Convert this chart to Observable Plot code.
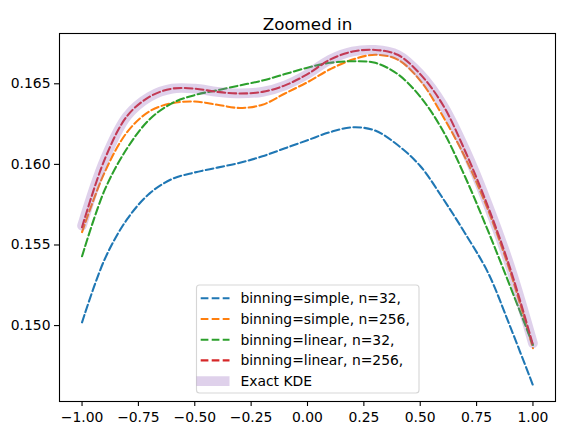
<!DOCTYPE html>
<html>
<head>
<meta charset="utf-8">
<script src="https://cdn.jsdelivr.net/npm/d3@7"></script>
<script src="https://cdn.jsdelivr.net/npm/@observablehq/plot@0.6"></script>
<style>
  html, body { margin: 0; padding: 0; background: white; }
  #chart { width: 565px; height: 435px; }
</style>
</head>
<body>
<div id="chart"></div>
<script>
// Evaluation grid on [-1, 1]
const xs = [-1.0, -0.9, -0.8, -0.7, -0.6, -0.5, -0.4, -0.3, -0.2, -0.1, 0.0,
            0.1, 0.2, 0.3, 0.4, 0.5, 0.6, 0.7, 0.8, 0.9, 1.0];

// Approximate KDE estimates for each binning scheme / grid size
const simple32 = [0.1502, 0.1541, 0.1566, 0.1582, 0.1591, 0.1595, 0.1598, 0.1601, 0.1605, 0.1610, 0.1615,
                  0.1620, 0.1623, 0.1621, 0.1612, 0.1599, 0.1579, 0.1557, 0.1533, 0.1499, 0.1463];
const simple256 = [0.1558, 0.1595, 0.1620, 0.1633, 0.1638, 0.1639, 0.1637, 0.1635, 0.1637, 0.1644, 0.1651,
                   0.1659, 0.1665, 0.1668, 0.1665, 0.1652, 0.1630, 0.1604, 0.1572, 0.1533, 0.1486];
const linear32 = [0.1543, 0.1584, 0.1610, 0.1628, 0.1638, 0.1643, 0.1646, 0.1649, 0.1652, 0.1656, 0.1660,
                  0.1663, 0.1664, 0.1663, 0.1656, 0.1642, 0.1621, 0.1592, 0.1559, 0.1524, 0.1488];
const linear256 = [0.1561, 0.1603, 0.1630, 0.1642, 0.1647, 0.1647, 0.1645, 0.1644, 0.1645, 0.1649, 0.1656,
                   0.1665, 0.1670, 0.1671, 0.1668, 0.1656, 0.1637, 0.1608, 0.1574, 0.1535, 0.1488];
// Exact (non-binned) KDE
const exactKDE = [0.1562, 0.1603, 0.1630, 0.1642, 0.1647, 0.1647, 0.1645, 0.1644, 0.1645, 0.1649, 0.1656,
                  0.1665, 0.1670, 0.1671, 0.1668, 0.1656, 0.1637, 0.1609, 0.1575, 0.1536, 0.1489];

const seriesLabels = ["binning=simple, n=32,", "binning=simple, n=256,",
                      "binning=linear, n=32,", "binning=linear, n=256,"];
const seriesValues = [simple32, simple256, linear32, linear256];
const seriesColors = ["#1f77b4", "#ff7f0e", "#2ca02c", "#d62728"];
const exactLabel = "Exact KDE";
const exactColor = "#9467bd";

const xTicks = [-1.0, -0.75, -0.5, -0.25, 0.0, 0.25, 0.5, 0.75, 1.0];
const yTicks = [0.150, 0.155, 0.160, 0.165];
const titleText = "Zoomed in";

// Long-form rows for the dashed estimate lines
const rows = seriesValues.flatMap((vals, i) =>
  vals.map((v, j) => ({x: xs[j], y: v, series: seriesLabels[i]})));
const exactRows = exactKDE.map((v, j) => ({x: xs[j], y: v}));

const font = "DejaVu Sans, Verdana, sans-serif";
const dash = "7.7,3.3";

const chart = Plot.plot({
  width: 565,
  height: 435,
  marginLeft: 59,
  marginRight: 10,
  marginTop: 33,
  marginBottom: 34,
  style: {fontFamily: font, fontSize: "13.9px", color: "black", background: "white"},
  x: {domain: [-1.1, 1.1]},
  y: {domain: [0.14529, 0.16812]},
  color: {domain: seriesLabels, range: seriesColors},
  marks: [
    Plot.axisX({ticks: xTicks, tickFormat: d3.format(".2f"), tickSize: 5, tickPadding: 6,
                strokeWidth: 1.1, label: null, fontSize: 13.9}),
    Plot.axisY({ticks: yTicks, tickFormat: d3.format(".3f"), tickSize: 5, tickPadding: 4,
                strokeWidth: 1.1, label: null, fontSize: 13.9}),
    Plot.line(rows, {x: "x", y: "y", z: "series", stroke: "series",
                     strokeWidth: 2.08, strokeDasharray: dash, curve: "catmull-rom"}),
    Plot.line(exactRows, {x: "x", y: "y", stroke: exactColor, strokeOpacity: 0.3,
                          strokeWidth: 9.7, curve: "catmull-rom"}),
    Plot.frame({stroke: "black", strokeWidth: 1.1}),
    Plot.text([titleText], {frameAnchor: "top", dy: -15, fontSize: 16.7, fill: "black"})
  ]
});

// Legend box in the lower middle of the axes
const svg = d3.select(chart);
const legendItems = seriesLabels.map((label, i) => ({label, color: seriesColors[i], exact: false}))
  .concat([{label: exactLabel, color: exactColor, exact: true}]);

const lg = svg.append("g")
  .attr("font-family", font)
  .attr("font-size", "13.9px")
  .attr("text-anchor", "start");
lg.append("rect")
  .attr("x", 196.5).attr("y", 285).attr("width", 222.5).attr("height", 108)
  .attr("rx", 3).attr("fill", "white").attr("fill-opacity", 0.8)
  .attr("stroke", "#cccccc").attr("stroke-opacity", 0.8).attr("stroke-width", 1.1);

legendItems.forEach((d, i) => {
  const cy = 298.3 + i * 20.7;
  if (d.exact) {
    lg.append("line").attr("x1", 196.5).attr("x2", 229.5).attr("y1", cy).attr("y2", cy)
      .attr("stroke", d.color).attr("stroke-opacity", 0.3).attr("stroke-width", 9.7);
  } else {
    lg.append("line").attr("x1", 200.7).attr("x2", 229.5).attr("y1", cy).attr("y2", cy)
      .attr("stroke", d.color).attr("stroke-width", 2.08).attr("stroke-dasharray", dash);
  }
  lg.append("text").attr("x", 240.4).attr("y", cy).attr("dy", "0.35em")
    .attr("text-anchor", "start").attr("fill", "black").text(d.label);
});

document.getElementById("chart").appendChild(chart);
</script>
</body>
</html>
